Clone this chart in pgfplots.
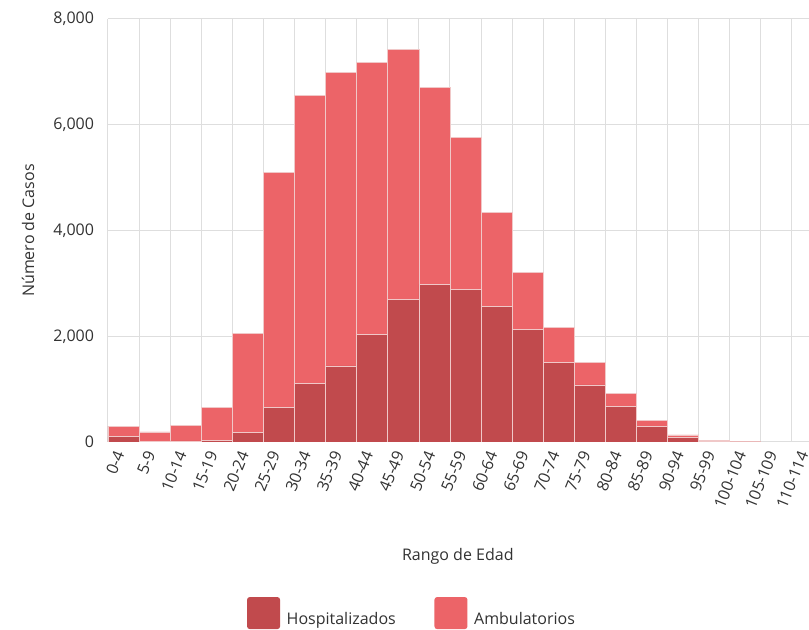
\documentclass[border=0pt]{standalone}
\usepackage{fontspec}
\setmainfont{Open Sans}
\usepackage{pgfplots}
\pgfplotsset{compat=1.18}
\definecolor{hosp}{RGB}{193,74,77}
\definecolor{amb}{RGB}{236,100,104}
\definecolor{gridc}{RGB}{222,222,222}
\definecolor{txt}{RGB}{50,50,50}
\definecolor{edgec}{RGB}{240,200,200}
\newcommand{\tf}{\fontsize{12}{14}\selectfont\color{txt}}
\begin{document}
\begin{tikzpicture}[x=1pt,y=1pt]
\useasboundingbox (-81,-141) rectangle (525.75,331.5);
\begin{axis}[
  at={(0,0)}, anchor=south west,
  scale only axis, width=525.75pt, height=317.25pt,
  xmin=-0.5, xmax=22.05, ymin=0, ymax=8000,
  ybar stacked, bar width=1,
  axis line style={draw=none},
  tick style={draw=none},
  font=\tf,
  /pgf/number format/assume math mode=true,
  /pgf/number format/.cd, 1000 sep={,}, /pgfplots/.cd,
  ytick={0,2000,4000,6000,8000},
  xtick={0,...,22},
  xticklabels={0-4,5-9,10-14,15-19,20-24,25-29,30-34,35-39,40-44,45-49,50-54,55-59,60-64,65-69,70-74,75-79,80-84,85-89,90-94,95-99,100-104,105-109,110-114},
  x tick label style={rotate=68, anchor=east, font=\tf, xshift=-4.5pt},
  y tick label style={font=\tf, xshift=-7pt},
  minor xtick={-0.5,0.5,...,22.5},
  xminorgrids=true, xmajorgrids=false, ymajorgrids=true,
  major grid style={gridc, line width=0.75pt},
  minor grid style={gridc, line width=0.75pt},
  ylabel={Número de Casos},
  xlabel={Rango de Edad},
  every axis y label/.style={at={(axis description cs:-0.114,0.5)}, rotate=90, anchor=center, font=\tf},
  every axis x label/.style={at={(axis description cs:0.499,-0.27)}, anchor=center, font=\tf},
  legend columns=2,
  legend style={at={(axis description cs:0.198,-0.366)}, anchor=north west, draw=none, inner sep=0pt, font=\tf,
    /tikz/every even column/.append style={column sep=27pt},
    /tikz/every odd column/.append style={column sep=3pt}},
  legend image code/.code={\fill[#1, draw=none, rounded corners=2pt] (0pt,-7pt) rectangle (24.75pt,17pt);},
]
\addplot+[ybar, fill=hosp, draw=edgec, line width=0.5pt] coordinates {
(0,100) (1,10) (2,20) (3,30) (4,180) (5,650) (6,1110) (7,1440) (8,2040) (9,2700) (10,2980) (11,2890) (12,2570) (13,2130) (14,1510) (15,1080) (16,670) (17,290) (18,90) (19,15) (20,2) (21,0) (22,0)};
\addlegendentry{Hospitalizados}
\addplot+[ybar, fill=amb, draw=edgec, line width=0.5pt] coordinates {
(0,200) (1,180) (2,290) (3,620) (4,1880) (5,4450) (6,5450) (7,5545) (8,5135) (9,4725) (10,3730) (11,2865) (12,1765) (13,1080) (14,660) (15,430) (16,250) (17,125) (18,45) (19,15) (20,2) (21,0) (22,0)};
\addlegendentry{Ambulatorios}
\end{axis}
\end{tikzpicture}
\end{document}
